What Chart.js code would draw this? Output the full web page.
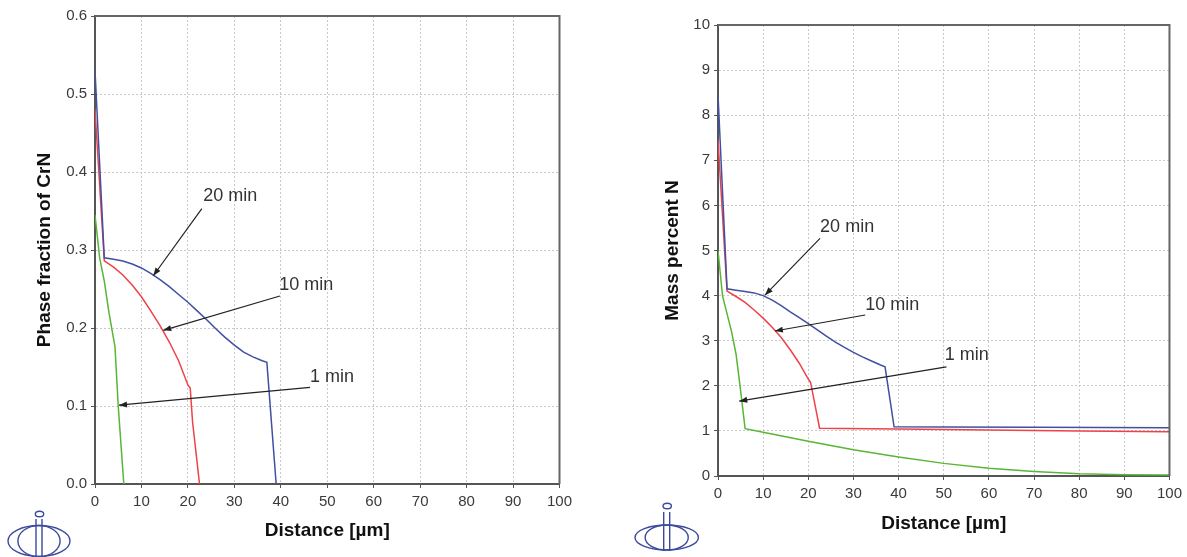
<!DOCTYPE html>
<html>
<head>
<meta charset="utf-8">
<title>CrN phase fraction and N mass percent vs distance</title>
<script src="https://cdn.jsdelivr.net/npm/chart.js@4.4.1/dist/chart.umd.min.js"></script>
<style>
  body { margin: 0; background: #fff; }
  #wrap { position: relative; width: 1187px; height: 557px; overflow: hidden; }
  #leftChart { position: absolute; left: 0; top: 0; }
  #rightChart { position: absolute; left: 600px; top: 0; }
</style>
</head>
<body>
<div id="wrap">
  <canvas id="leftChart" width="600" height="557"></canvas>
  <canvas id="rightChart" width="587" height="557"></canvas>
</div>
<script>
// Values (distance in µm)

// Left panel: phase fraction of CrN
const crnX20 = [0, 2, 4, 6, 8, 10, 12, 14, 16, 18, 20, 22, 24, 26, 28, 30, 32, 34, 36, 37, 39];
const crnY20 = [0.53, 0.29, 0.288, 0.286, 0.282, 0.277, 0.27, 0.262, 0.253, 0.243, 0.233, 0.222, 0.211, 0.199, 0.188, 0.178, 0.169, 0.163, 0.158, 0.156, 0];
const crnX10 = [0, 2, 4, 6, 8, 10, 12, 14, 16, 18, 20, 20.5, 21, 22.5];
const crnY10 = [0.48, 0.286, 0.278, 0.268, 0.255, 0.24, 0.222, 0.203, 0.182, 0.158, 0.127, 0.123, 0.08, 0];
const crnX1 = [0, 1, 2, 3, 4.3, 5, 6.2];
const crnY1 = [0.345, 0.29, 0.26, 0.22, 0.176, 0.1, 0];

// Right panel: mass percent N
const nX20 = [0, 2, 4, 6, 8, 10, 12, 14, 16, 18, 20, 22, 24, 26, 28, 30, 32, 34, 36, 37, 39, 50, 70, 100];
const nY20 = [8.45, 4.15, 4.12, 4.09, 4.06, 4.0, 3.9, 3.78, 3.64, 3.51, 3.38, 3.24, 3.1, 2.97, 2.85, 2.74, 2.64, 2.55, 2.46, 2.42, 1.09, 1.085, 1.08, 1.07];
const nX10 = [0, 2, 4, 6, 8, 10, 12, 14, 16, 18, 20, 20.5, 22.5, 40, 60, 80, 100];
const nY10 = [7.45, 4.1, 3.98, 3.85, 3.68, 3.5, 3.3, 3.07, 2.8, 2.5, 2.15, 2.08, 1.06, 1.04, 1.02, 1.0, 0.98];
const nX1 = [0, 1, 2, 3, 4, 5, 6, 10, 20, 30, 40, 50, 60, 70, 80, 90, 100];
const nY1 = [5.0, 4.0, 3.6, 3.2, 2.7, 1.9, 1.05, 0.97, 0.77, 0.58, 0.42, 0.28, 0.17, 0.1, 0.05, 0.03, 0.02];

// Labels with arrows: [text x, text y, arrow start x, start y, arrow end x, end y] in data units
const noteText = ['20 min', '10 min', '1 min'];
const crnNotes = [
    [29.1, 0.369, 23.0, 0.353, 12.55, 0.267],
    [45.5, 0.255, 39.8, 0.241, 14.7, 0.197],
    [51.0, 0.137, 46.3, 0.124, 5.17, 0.101]
];
const nNotes = [
    [28.6, 5.53, 22.6, 5.27, 10.4, 4.01],
    [38.6, 3.78, 32.6, 3.57, 12.6, 3.215],
    [55.1, 2.68, 50.6, 2.42, 4.7, 1.66]
];

const FONT = "'Liberation Sans', Arial, sans-serif";
const BLUE = '#4050a2';
const RED = '#ef4248';
const GREEN = '#58b634';

function toPoints(xs, ys) {
    return xs.map((x, i) => ({ x: x, y: ys[i] }));
}

function line(label, xs, ys, color) {
    return {
        label: label,
        data: toPoints(xs, ys),
        borderColor: color,
        borderWidth: 1.5,
        pointRadius: 0,
        tension: 0,
        fill: false
    };
}

// Draws the top/right frame, arrow notes and the logo
const framePlugin = {
    id: 'frame',
    afterDraw(chart, args, opts) {
        const { ctx, chartArea: a, scales: { x, y } } = chart;
        ctx.save();
        ctx.strokeStyle = '#666';
        ctx.lineWidth = 2;
        ctx.beginPath();
        ctx.moveTo(a.left, a.top);
        ctx.lineTo(a.right, a.top);
        ctx.lineTo(a.right, a.bottom);
        ctx.stroke();

        // notes
        opts.notes.forEach((n, i) => {
            const tx = x.getPixelForValue(n[0]), ty = y.getPixelForValue(n[1]);
            const sx = x.getPixelForValue(n[2]), sy = y.getPixelForValue(n[3]);
            const ex = x.getPixelForValue(n[4]), ey = y.getPixelForValue(n[5]);
            ctx.strokeStyle = '#222';
            ctx.fillStyle = '#222';
            ctx.lineWidth = 1.2;
            ctx.beginPath();
            ctx.moveTo(sx, sy);
            ctx.lineTo(ex, ey);
            ctx.stroke();
            const ang = Math.atan2(ey - sy, ex - sx);
            const len = 8, half = 3;
            ctx.beginPath();
            ctx.moveTo(ex, ey);
            ctx.lineTo(ex - len * Math.cos(ang) + half * Math.sin(ang), ey - len * Math.sin(ang) - half * Math.cos(ang));
            ctx.lineTo(ex - len * Math.cos(ang) - half * Math.sin(ang), ey - len * Math.sin(ang) + half * Math.cos(ang));
            ctx.closePath();
            ctx.fill();
            ctx.fillStyle = '#333';
            ctx.font = '18px ' + FONT;
            ctx.textAlign = 'center';
            ctx.textBaseline = 'middle';
            ctx.fillText(noteText[i], tx, ty);
        });

        // logo
        const g = opts.logo;
        ctx.strokeStyle = '#3b4a9c';
        ctx.lineWidth = 1.4;
        ctx.beginPath();
        ctx.ellipse(g.cx, g.cy, g.rx, g.ry, 0, 0, Math.PI * 2);
        ctx.stroke();
        ctx.beginPath();
        ctx.ellipse(g.cx, g.cy, g.rx * 0.68, g.ry, 0, 0, Math.PI * 2);
        ctx.stroke();
        ctx.beginPath();
        ctx.moveTo(g.cx - 3, g.lineTop);
        ctx.lineTo(g.cx - 3, g.cy + g.ry + 1);
        ctx.moveTo(g.cx + 3, g.lineTop);
        ctx.lineTo(g.cx + 3, g.cy + g.ry + 1);
        ctx.stroke();
        ctx.beginPath();
        ctx.ellipse(g.cx + 0.5, g.dotY, 4.2, 2.8, 0, 0, Math.PI * 2);
        ctx.stroke();
        ctx.restore();
    }
};

function makeOptions(cfg) {
    return {
        responsive: false,
        animation: false,
        layout: { padding: { top: cfg.padTop, right: cfg.padRight, left: 0, bottom: 0 } },
        plugins: {
            legend: { display: false },
            tooltip: { enabled: false },
            frame: { notes: cfg.notes, logo: cfg.logo }
        },
        scales: {
            x: {
                type: 'linear',
                min: 0,
                max: 100,
                afterFit: s => { s.height = cfg.xHeight; },
                ticks: { stepSize: 10, color: '#3a3a3a', padding: 5, font: { family: FONT, size: 15 } },
                grid: { color: '#c9c9c9', lineWidth: 1, tickLength: 4, tickColor: '#555', tickBorderDash: [] },
                border: { display: true, color: '#555', width: 2, dash: [2, 2] },
                title: {
                    display: true,
                    text: 'Distance [µm]',
                    color: '#111',
                    font: { family: FONT, size: 19, weight: 'bold' },
                    padding: { top: 0, bottom: cfg.xTitlePad }
                }
            },
            y: {
                type: 'linear',
                min: 0,
                max: cfg.yMax,
                afterFit: s => { s.width = cfg.yWidth; },
                ticks: {
                    stepSize: cfg.yStep,
                    color: '#3a3a3a',
                    padding: 4,
                    font: { family: FONT, size: 15 },
                    callback: v => cfg.yFmt(v)
                },
                grid: { color: '#c9c9c9', lineWidth: 1, tickLength: 4, tickColor: '#555', tickBorderDash: [] },
                border: { display: true, color: '#555', width: 2, dash: [2, 2] },
                title: {
                    display: true,
                    text: cfg.yTitle,
                    color: '#111',
                    font: { family: FONT, size: 19, weight: 'bold' },
                    padding: { top: cfg.yTitlePad, bottom: 0 }
                }
            }
        }
    };
}

new Chart(document.getElementById('leftChart'), {
    type: 'line',
    data: {
        datasets: [
            line('20 min', crnX20, crnY20, BLUE),
            line('10 min', crnX10, crnY10, RED),
            line('1 min', crnX1, crnY1, GREEN)
        ]
    },
    options: makeOptions({
        padTop: 16, padRight: 40.5, xHeight: 73, yWidth: 95,
        xTitlePad: 14.6, yTitlePad: 33.6,
        yMax: 0.6, yStep: 0.1, yFmt: v => v.toFixed(1),
        yTitle: 'Phase fraction of CrN',
        notes: crnNotes,
        logo: { cx: 39, cy: 541, rx: 31, ry: 15.5, lineTop: 519, dotY: 514 }
    }),
    plugins: [framePlugin]
});

new Chart(document.getElementById('rightChart'), {
    type: 'line',
    data: {
        datasets: [
            line('20 min', nX20, nY20, BLUE),
            line('10 min', nX10, nY10, RED),
            line('1 min', nX1, nY1, GREEN)
        ]
    },
    options: makeOptions({
        padTop: 25, padRight: 17, xHeight: 81, yWidth: 118,
        xTitlePad: 21.6, yTitlePad: 61.1,
        yMax: 10, yStep: 1, yFmt: v => String(v),
        yTitle: 'Mass percent N',
        notes: nNotes,
        logo: { cx: 66.7, cy: 537.5, rx: 31.7, ry: 12.5, lineTop: 512, dotY: 506 }
    }),
    plugins: [framePlugin]
});
</script>
</body>
</html>
